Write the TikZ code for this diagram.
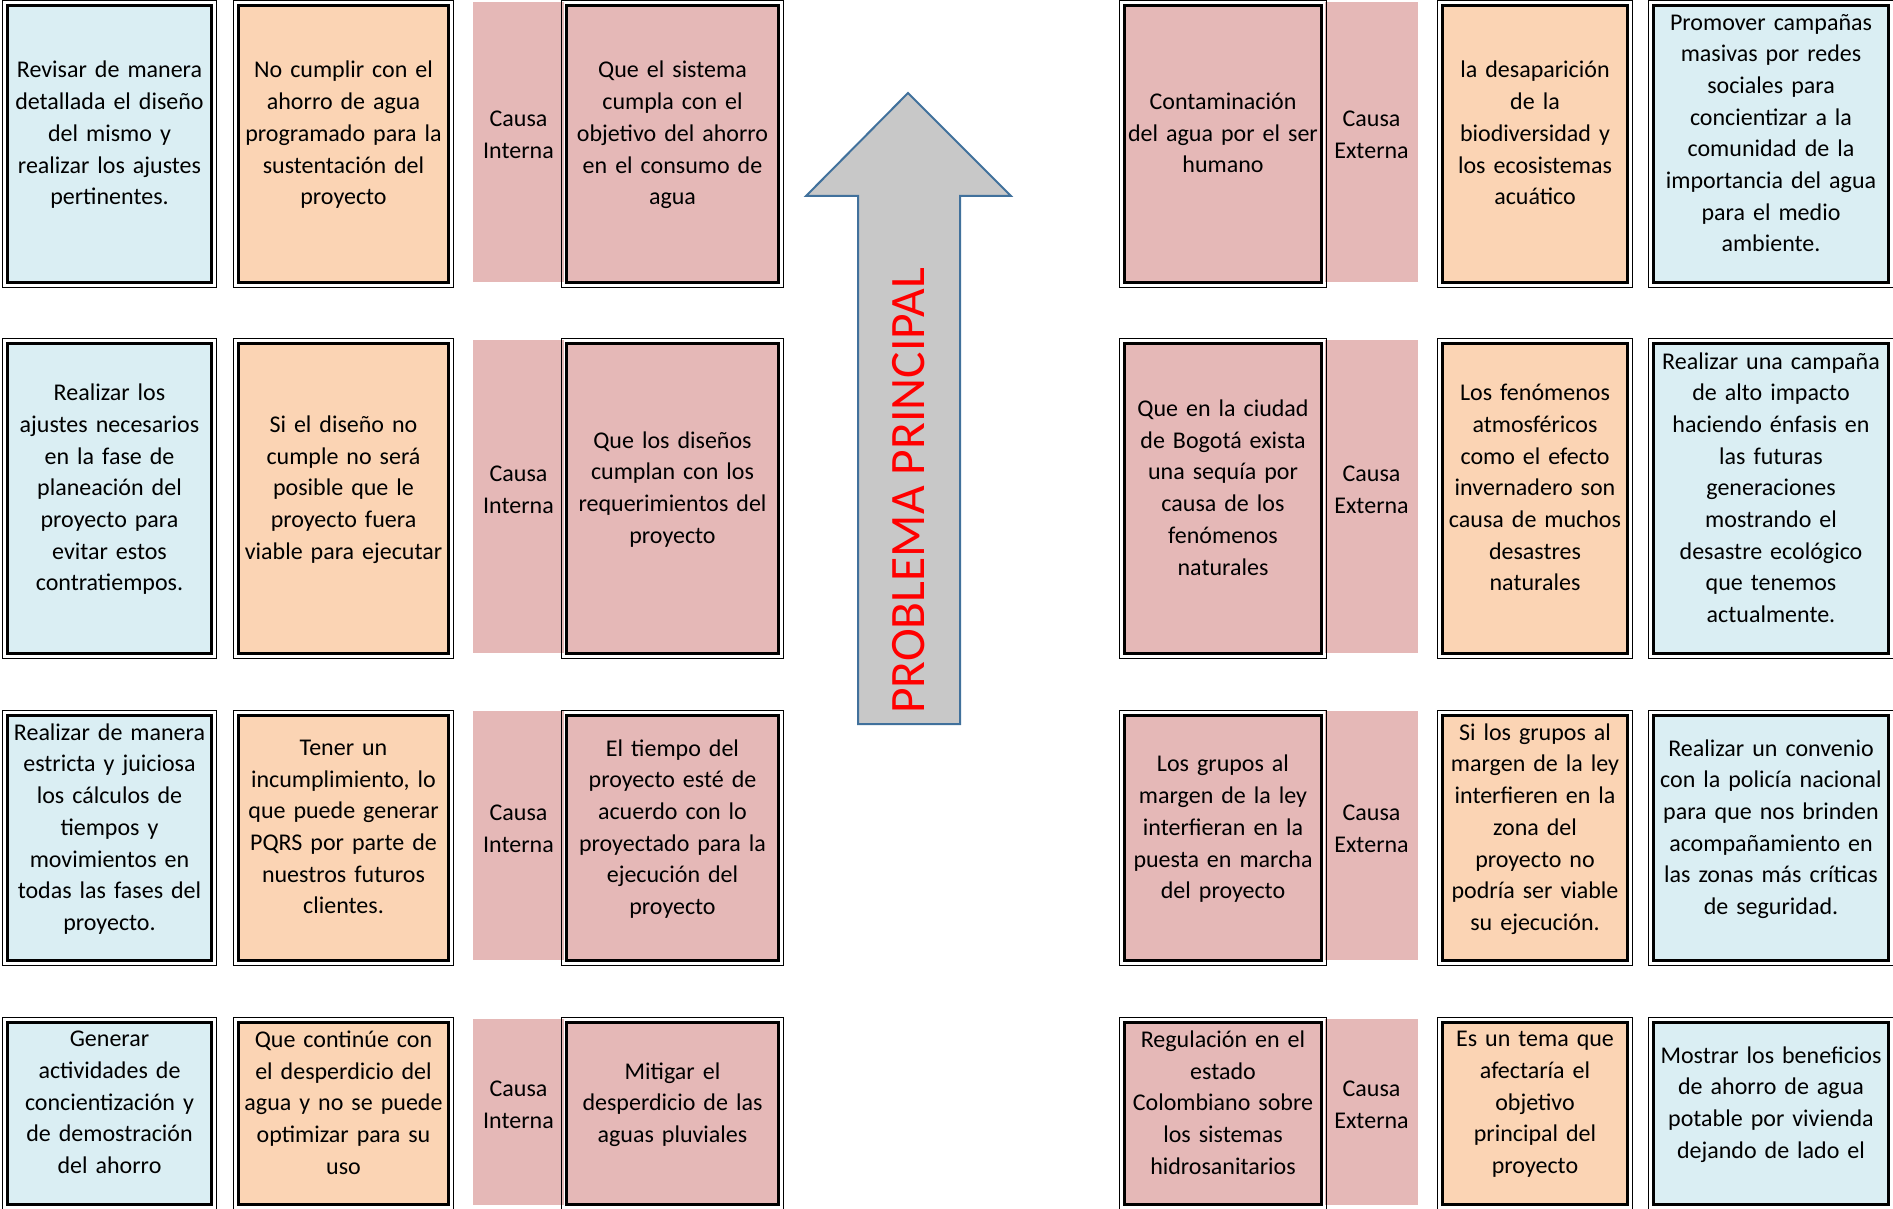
\documentclass[tikz,border=0pt]{standalone}
\usepackage{fontspec}
\setmainfont{Carlito}
\usepackage{tikz}
\usepackage{xcolor}
\definecolor{boxblue}{HTML}{DAEEF3}
\definecolor{boxorange}{HTML}{FBD4B4}
\definecolor{boxpink}{HTML}{E5B8B7}
\definecolor{arrowgray}{HTML}{C8C8C8}
\definecolor{arrowline}{HTML}{41719C}
\tikzset{
    card/.style = {draw=black, line width=2.6pt, rectangle, align=center, inner sep=0pt, font=\fontsize{24}{31.7}\selectfont, execute at end node={\rule[-22pt]{0pt}{0pt}}},
    card-frame/.style = {draw=black, line width=1.3pt},
    blue-card/.style = {card, fill=boxblue},
    orange-card/.style = {card, fill=boxorange},
    pink-card/.style = {card, fill=boxpink},
    cause-strip/.style = {fill=boxpink, rectangle, align=center, inner sep=0pt, font=\fontsize{24}{31.7}\selectfont, execute at end node={\rule[-14pt]{0pt}{0pt}}},
    sol-left/.style = {minimum width=204pt, text width=200pt},
    efe-left/.style = {minimum width=210pt, text width=206pt},
    obj-left/.style = {minimum width=212pt, text width=208pt},
    tip-left/.style = {minimum width=91pt, text width=88pt},
    cau-right/.style = {minimum width=197pt, text width=193pt},
    tip-right/.style = {minimum width=93pt, text width=90pt},
    efe-right/.style = {minimum width=185pt, text width=182pt},
    sol-right/.style = {minimum width=235pt, text width=231pt},
    row-a/.style = {minimum height=277pt},
    row-b/.style = {minimum height=310pt},
    row-c/.style = {minimum height=245pt},
    row-d/.style = {minimum height=182pt},
    main-arrow/.style = {draw=arrowline, fill=arrowgray, line width=2pt, line join=miter},
    problem-text/.style = {text=red, font=\fontsize{49.5}{52}\selectfont, inner sep=0pt},
}

\begin{document}
\begin{tikzpicture}[x=1pt, y=-1pt]
\path[fill=white, use as bounding box] (0,0) rectangle (1893,1209);

% franjas de tipo de causa
\node[cause-strip, tip-left, minimum height=280pt] (tipL1) at (518.5,142) {Causa\\Interna};
\node[cause-strip, tip-left, minimum height=313pt] (tipL2) at (518.5,496.5) {Causa\\Interna};
\node[cause-strip, tip-left, minimum height=249pt] (tipL3) at (518.5,835.5) {Causa\\Interna};
\node[cause-strip, tip-left, minimum height=186pt] (tipL4) at (518.5,1112) {Causa\\Interna};
\node[cause-strip, tip-right, minimum height=280pt] (tipR1) at (1371.5,142) {Causa\\Externa};
\node[cause-strip, tip-right, minimum height=313pt] (tipR2) at (1371.5,496.5) {Causa\\Externa};
\node[cause-strip, tip-right, minimum height=249pt] (tipR3) at (1371.5,835.5) {Causa\\Externa};
\node[cause-strip, tip-right, minimum height=186pt] (tipR4) at (1371.5,1112) {Causa\\Externa};

% lado izquierdo
\node[blue-card, sol-left, row-a] (solL1) at (109.5,144) {Revisar de manera\\detallada el diseño\\del mismo y\\realizar los ajustes\\pertinentes.};
\node[orange-card, efe-left, row-a] (efeL1) at (343.5,144) {No cumplir con el\\ahorro de agua\\programado para la\\sustentación del\\proyecto};
\node[pink-card, obj-left, row-a] (objL1) at (672.5,144) {Que el sistema\\cumpla con el\\objetivo del ahorro\\en el consumo de\\agua};

\node[blue-card, sol-left, row-b] (solL2) at (109.5,498.5) {Realizar los\\ajustes necesarios\\en la fase de\\planeación del\\proyecto para\\evitar estos\\contratiempos.};
\node[orange-card, efe-left, row-b] (efeL2) at (343.5,498.5) {Si el diseño no\\cumple no será\\posible que le\\proyecto fuera\\viable para ejecutar};
\node[pink-card, obj-left, row-b] (objL2) at (672.5,498.5) {Que los diseños\\cumplan con los\\requerimientos del\\proyecto};

\node[blue-card, sol-left, row-c] (solL3) at (109.5,838) {Realizar de manera\\estricta y juiciosa\\los cálculos de\\tiempos y\\movimientos en\\todas las fases del\\proyecto.};
\node[orange-card, efe-left, row-c] (efeL3) at (343.5,838) {Tener un\\incumplimiento, lo\\que puede generar\\PQRS por parte de\\nuestros futuros\\clientes.};
\node[pink-card, obj-left, row-c] (objL3) at (672.5,838) {El tiempo del\\proyecto esté de\\acuerdo con lo\\proyectado para la\\ejecución del\\proyecto};

\node[blue-card, sol-left, row-d] (solL4) at (109.5,1113.5) {Generar\\actividades de\\concientización y\\de demostración\\del ahorro};
\node[orange-card, efe-left, row-d] (efeL4) at (343.5,1113.5) {Que continúe con\\el desperdicio del\\agua y no se puede\\optimizar para su\\uso};
\node[pink-card, obj-left, row-d] (objL4) at (672.5,1113.5) {Mitigar el\\desperdicio de las\\aguas pluviales};

% lado derecho
\node[pink-card, cau-right, row-a] (cauR1) at (1223,144) {Contaminación\\del agua por el ser\\humano};
\node[orange-card, efe-right, row-a] (efeR1) at (1535,144) {la desaparición\\de la\\biodiversidad y\\los ecosistemas\\acuático};
\node[blue-card, sol-right, row-a] (solR1) at (1771,144) {Promover campañas\\masivas por redes\\sociales para\\concientizar a la\\comunidad de la\\importancia del agua\\para el medio\\ambiente.};

\node[pink-card, cau-right, row-b] (cauR2) at (1223,498.5) {Que en la ciudad\\de Bogotá exista\\una sequía por\\causa de los\\fenómenos\\naturales};
\node[orange-card, efe-right, row-b] (efeR2) at (1535,498.5) {Los fenómenos\\atmosféricos\\como el efecto\\invernadero son\\causa de muchos\\desastres\\naturales};
\node[blue-card, sol-right, row-b] (solR2) at (1771,498.5) {Realizar una campaña\\de alto impacto\\haciendo énfasis en\\las futuras\\generaciones\\mostrando el\\desastre ecológico\\que tenemos\\actualmente.};

\node[pink-card, cau-right, row-c] (cauR3) at (1223,838) {Los grupos al\\margen de la ley\\interfieran en la\\puesta en marcha\\del proyecto};
\node[orange-card, efe-right, row-c] (efeR3) at (1535,838) {Si los grupos al\\margen de la ley\\interfieren en la\\zona del\\proyecto no\\podría ser viable\\su ejecución.};
\node[blue-card, sol-right, row-c] (solR3) at (1771,838) {Realizar un convenio\\con la policía nacional\\para que nos brinden\\acompañamiento en\\las zonas más críticas\\de seguridad.};

\node[pink-card, cau-right, row-d] (cauR4) at (1223,1113.5) {Regulación en el\\estado\\Colombiano sobre\\los sistemas\\hidrosanitarios};
\node[orange-card, efe-right, row-d] (efeR4) at (1535,1113.5) {Es un tema que\\afectaría el\\objetivo\\principal del\\proyecto};
\node[blue-card, sol-right, row-d] (solR4) at (1771,1113.5) {Mostrar los beneficios\\de ahorro de agua\\potable por vivienda\\dejando de lado el};

% marco exterior doble
\foreach \n in {solL1,efeL1,objL1,solL2,efeL2,objL2,solL3,efeL3,objL3,solL4,efeL4,objL4,
                cauR1,efeR1,solR1,cauR2,efeR2,solR2,cauR3,efeR3,solR3,cauR4,efeR4,solR4}
    \draw[card-frame] ([shift={(-3.5pt,3.5pt)}]\n.north west) rectangle ([shift={(3.5pt,-3.5pt)}]\n.south east);

% flecha central
\draw[main-arrow] (908,93) -- (1011,196) -- (960,196) -- (960,724) -- (858,724) -- (858,196) -- (806,196) -- cycle;
\node[problem-text, rotate=90, anchor=base] (problema) at (924,491) {PROBLEMA PRINCIPAL};
\end{tikzpicture}
\end{document}
